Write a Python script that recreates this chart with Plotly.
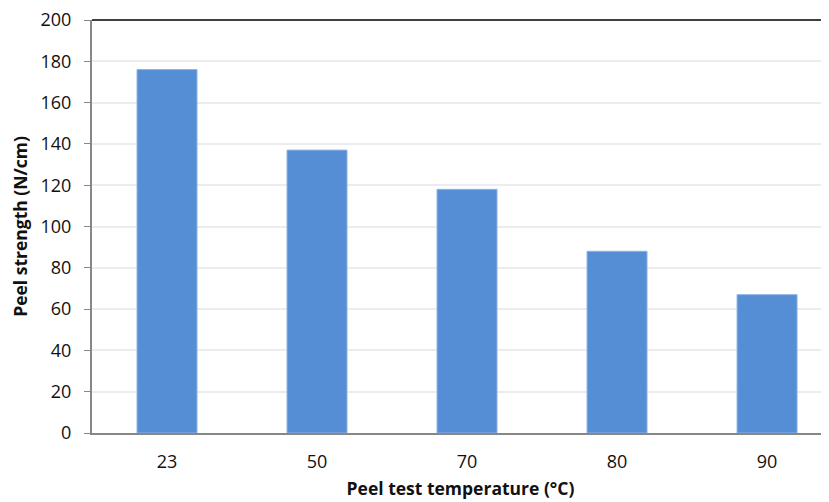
import plotly.graph_objects as go

categories = ["23", "50", "70", "80", "90"]
peel_strength = [176, 137, 118, 88, 67]
y_ticks = [0, 20, 40, 60, 80, 100, 120, 140, 160, 180, 200]

fig = go.Figure()
fig.add_trace(go.Bar(
    x=categories, y=peel_strength, width=0.4,
    marker=dict(color="#558ed5", line=dict(color="#8fb4e3", width=1)),
))

font_family = "Open Sans, Liberation Sans, sans-serif"
fig.update_layout(
    width=821, height=494,
    margin=dict(l=84, r=0, t=12, b=69),
    plot_bgcolor="white", paper_bgcolor="white",
    showlegend=False,
    font=dict(family=font_family, size=18, color="#111111"),
    xaxis=dict(
        type="category", range=[-0.5, 4.413],
        showline=True, linecolor="#878787", linewidth=2,
        ticks="", showgrid=False,
        tickfont=dict(size=18), ticklabelstandoff=11,
        title=dict(text="<b>Peel test temperature (°C)</b>", font=dict(size=17.5), standoff=11),
    ),
    yaxis=dict(
        range=[0, 200], tickvals=y_ticks,
        showline=True, linecolor="#878787", linewidth=2,
        ticks="outside", ticklen=6, tickcolor="#878787", tickwidth=1,
        showgrid=True, gridcolor="#ececec", gridwidth=1.5,
        zeroline=False,
        tickfont=dict(size=18), ticklabelstandoff=9,
        ticklabeloverflow="allow",
        title=dict(text="<b>Peel strength (N/cm)</b>", font=dict(size=17.5), standoff=8),
    ),
)
fig.add_shape(type="line", xref="paper", yref="paper", x0=0, x1=1, y0=1, y1=1,
              line=dict(color="#000000", width=1.5), layer="above")

fig.write_html("out.html")
